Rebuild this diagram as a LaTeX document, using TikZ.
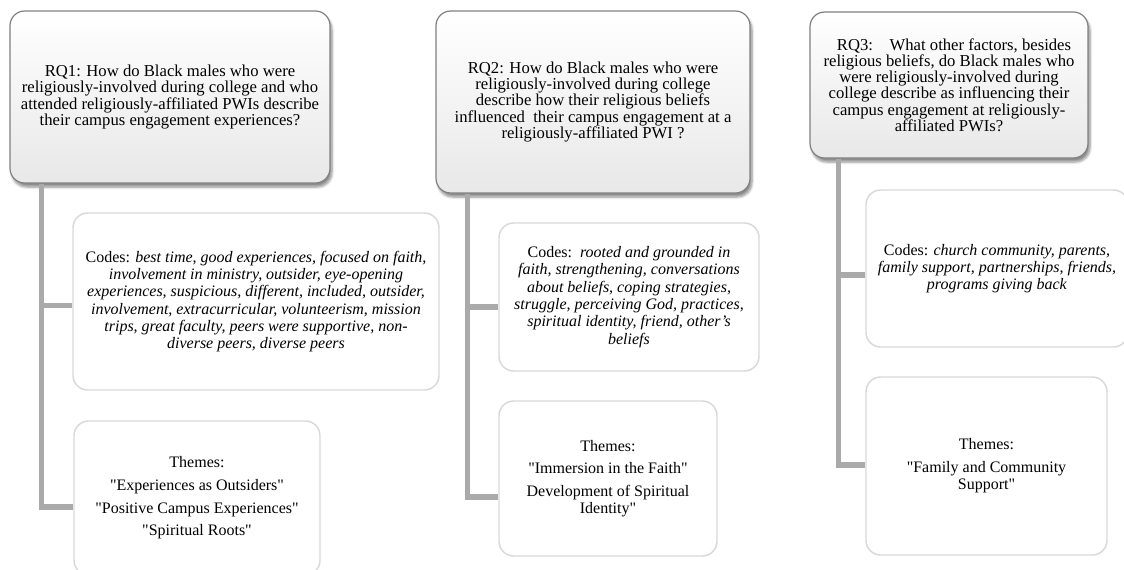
\documentclass[tikz,border=0pt]{standalone}
\usepackage{fontspec}
\setmainfont{Liberation Serif}
\usetikzlibrary{shadows.blur}
\definecolor{connGray}{HTML}{AAAAAA}
\definecolor{rqBorder}{HTML}{808080}
\definecolor{boxBorder}{HTML}{D9D9D9}
\newcommand{\qq}{\textquotedbl}
\tikzset{
  rqbox/.style={draw=rqBorder, line width=0.9pt, rounded corners=11pt,
    top color=white, bottom color=black!9, inner sep=0pt, align=center,
    font=\fontsize{12.5}{12.2}\selectfont,
    blur shadow={shadow xshift=1.5pt, shadow yshift=-3pt, shadow blur steps=6, shadow opacity=45}},
  subbox/.style={draw=boxBorder, line width=1.1pt, rounded corners=11pt,
    fill=white, inner sep=0pt, align=center, font=\fontsize{12}{13}\selectfont},
  conn/.style={draw=connGray, line width=4.3pt}
}
\begin{document}
\begin{tikzpicture}[x=0.75pt,y=-0.75pt]
\useasboundingbox (0,0) rectangle (1124,569);
\clip (0,0) rectangle (1124,569);
% research question boxes
\node[rqbox, minimum width=240pt, minimum height=129pt] (rq1) at (170,97)
  {RQ1: How do Black males who were\\ religiously-involved during college and who\\ attended religiously-affiliated PWIs describe\\ their campus engagement experiences?};
\node[rqbox, minimum width=235.5pt, minimum height=136.5pt] (rq2) at (593,102)
  {RQ2: How do Black males who were\\ religiously-involved during college\\ describe how their religious beliefs\\ influenced\ \ their campus engagement at a\\ religiously-affiliated PWI ?};
\node[rqbox, minimum width=208.5pt, minimum height=109.5pt] (rq3) at (949,85)
  {\hspace{0.6em}RQ3:\hspace{1em}What other factors, besides\\ religious beliefs, do Black males who\\ were religiously-involved during\\ college describe as influencing their\\ campus engagement at religiously-\\ affiliated PWIs?};
% codes boxes
\node[subbox, minimum width=274.5pt, minimum height=132.75pt] (codes1) at (256,301.5)
  {Codes: \textit{best time, good experiences, focused on faith,}\\ \textit{involvement in ministry, outsider, eye-opening}\\ \textit{experiences, suspicious, different, included, outsider,}\\ \textit{involvement, extracurricular, volunteerism, mission}\\ \textit{trips, great faculty, peers were supportive, non-}\\ \textit{diverse peers, diverse peers}};
\node[subbox, minimum width=195pt, minimum height=111pt] (codes2) at (629,297)
  {Codes:\ \ \textit{rooted and grounded in}\\ \textit{faith, strengthening, conversations}\\ \textit{about beliefs, coping strategies,}\\ \textit{struggle, perceiving God, practices,}\\ \textit{spiritual identity, friend, other’s}\\ \textit{beliefs}};
\node[subbox, minimum width=196.5pt, minimum height=117.75pt] (codes3) at (997,268.5)
  {Codes: \textit{church community, parents,}\\ \textit{family support, partnerships, friends,}\\ \textit{programs giving back}};
% themes boxes
\node[subbox, minimum width=184.5pt, minimum height=115.5pt] (themes1) at (197,498)
  {Themes:\\[4pt] \qq Experiences as Outsiders\qq\\[4pt] \qq Positive Campus Experiences\qq\\[4pt] \qq Spiritual Roots\qq};
\node[subbox, minimum width=163.5pt, minimum height=116.25pt] (themes2) at (608,478.5)
  {Themes:\\[4pt] \qq Immersion in the Faith\qq\\[4pt] Development of Spiritual\\ Identity\qq};
\node[subbox, minimum width=180.75pt, minimum height=133.5pt] (themes3) at (986.5,466)
  {Themes:\\[4pt] \qq Family and Community\\ Support\qq};
% connectors
\draw[conn] ([xshift=24pt]rq1.south west) |- ([yshift=-3pt]codes1.west);
\draw[conn] ([xshift=24pt]rq1.south west) |- ([yshift=-6.75pt]themes1.west);
\draw[conn] ([xshift=24pt]rq2.south west) |- ([yshift=-7.5pt]codes2.west);
\draw[conn] ([xshift=24pt]rq2.south west) |- ([yshift=-13.9pt]themes2.west);
\draw[conn] ([xshift=21.75pt]rq3.south west) |- ([yshift=-4.9pt]codes3.west);
\draw[conn] ([xshift=21.75pt]rq3.south west) |- ([yshift=0.5pt]themes3.west);
\end{tikzpicture}
\end{document}
